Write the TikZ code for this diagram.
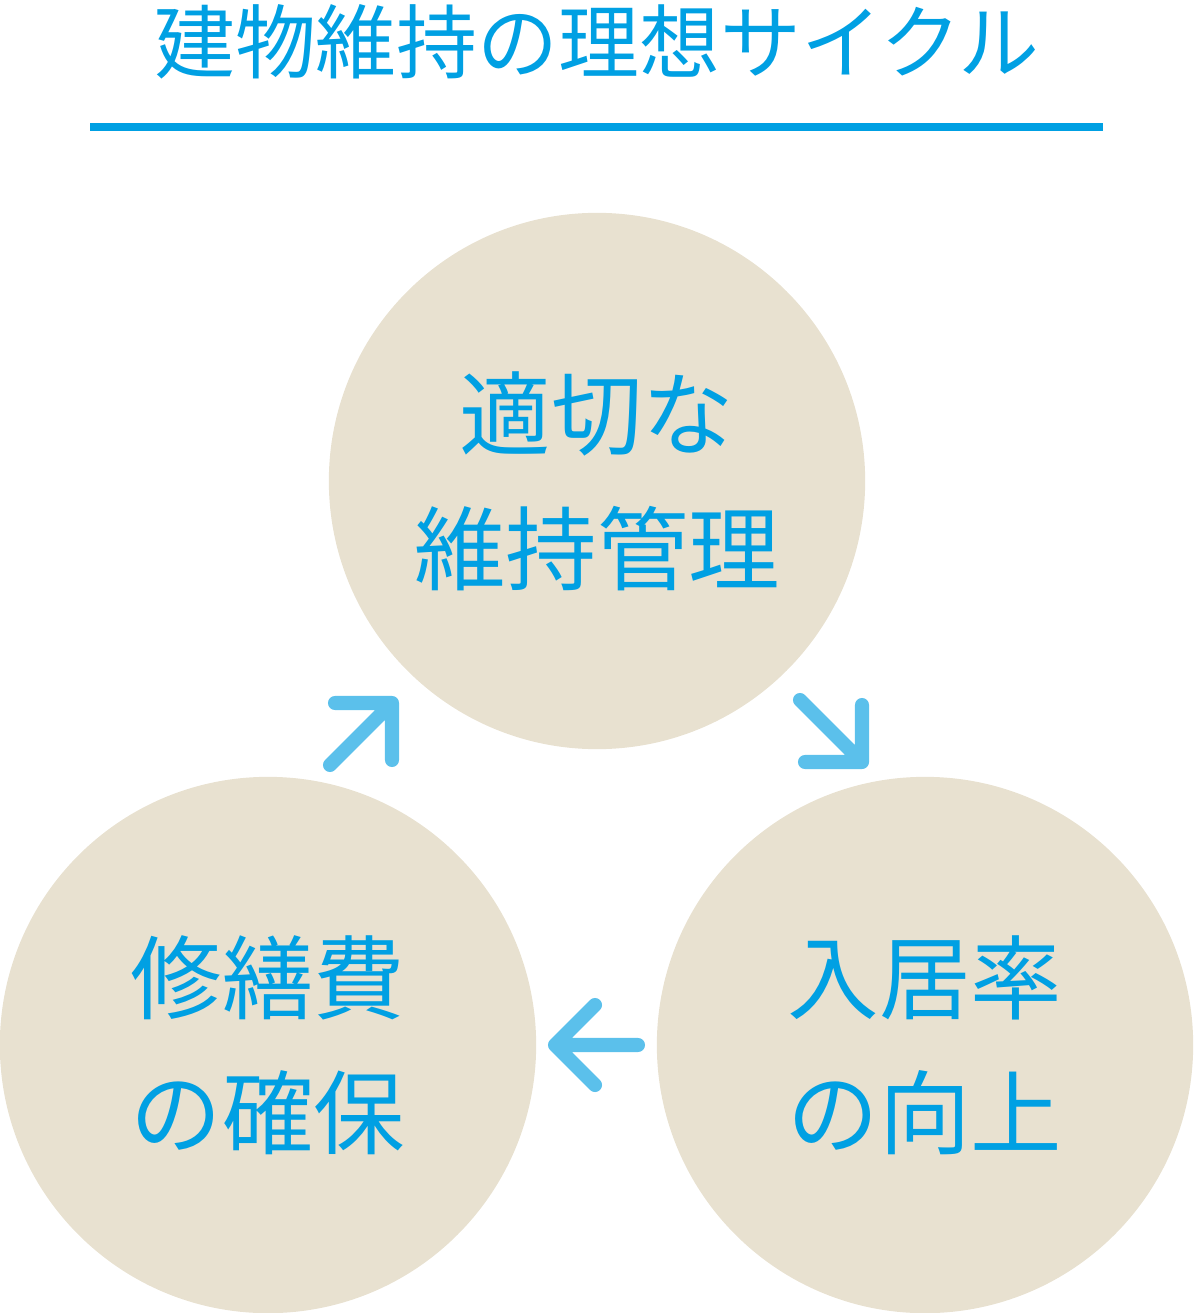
\documentclass[tikz,border=0pt]{standalone}
\usepackage{fontspec}
\newfontfamily\cjk{Noto Sans CJK JP}[Scale=1]
\usetikzlibrary{positioning,calc}
\definecolor{ttlblue}{HTML}{00A0E3}
\definecolor{arrblue}{HTML}{5BC0EB}
\definecolor{beige}{HTML}{E8E1D0}
\tikzset{
  stage/.style={circle,fill=beige,minimum size=5.36cm,inner sep=0pt,
    text=ttlblue,align=center,font=\cjk\fontsize{26}{38.5}\selectfont},
  turn/.style={draw=arrblue,line width=4pt,line cap=round,line join=round}
}
\begin{document}
\begin{tikzpicture}[x=0.01cm,y=-0.01cm]
\useasboundingbox (0,0) rectangle (1193,1313);
\node[text=ttlblue,font=\cjk\fontsize{23}{26}\selectfont] (title) at (597,42) {建物維持の理想サイクル};
\draw[ttlblue,line width=2.3pt] (90,127) -- (1103,127);
\node[stage] (care) at (597,481) {適切な\\維持管理};
\node[stage] (fund) at (268,1045) {修繕費\\の確保};
\node[stage] (rate) at (925,1045) {入居率\\の向上};
% arrows between stages
\coordinate (a1) at (330,765); \coordinate (h1) at (392,703);
\draw[turn] (a1) -- (h1) (335,703) -- (h1) -- (392,760);
\coordinate (a2) at (800,700); \coordinate (h2) at (862,762);
\draw[turn] (a2) -- (h2) (862,705) -- (h2) -- (805,762);
\coordinate (a3) at (638,1045); \coordinate (h3) at (555,1045);
\draw[turn] (a3) -- (h3) (595,1005) -- (h3) -- (595,1085);
\end{tikzpicture}
\end{document}
